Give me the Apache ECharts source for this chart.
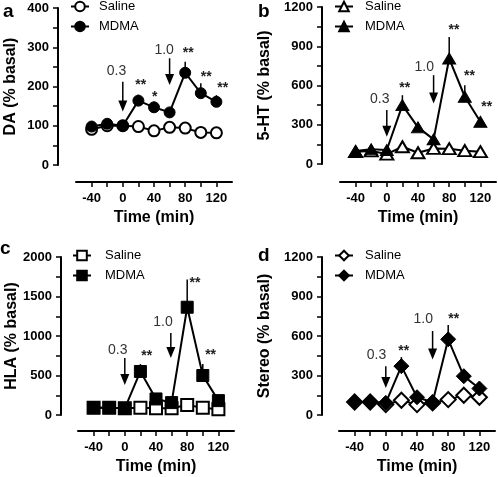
<!DOCTYPE html>
<html>
<head>
<meta charset="utf-8">
<script src="https://cdn.jsdelivr.net/npm/echarts@6/dist/echarts.min.js"></script>
<style>html,body{margin:0;padding:0;background:#fff;}#c{width:498px;height:477px;}</style>
</head>
<body>
<div id="c"></div>
<script>
// ---------- DATA ----------
const times = [-40, -20, 0, 20, 40, 60, 80, 100, 120];
const xTickValues = [-40, -20, 0, 20, 40, 60, 80, 100, 120];
const xLabelValues = [-40, 0, 40, 80, 120];

// a: DA
const daSaline = [91, 100, 100, 98, 87, 96, 94, 83, 82];
const daMdma = [98, 105, 100, 164, 147, 134, 235, 183, 161];
const daMdmaSem = [0, 0, 0, 15, 14, 0, 28, 25, 17];
const daArrowX = [0, 60], daArrowTop = [212, 272], daArrowBottom = [136, 204];
const daDoseLabels = ['0.3', '1.0'], daDoseX = [-8, 53], daDoseY = [238, 293];
const daStars = ['**', '*', '**', '**', '**'], daStarX = [23, 41, 84, 107, 128], daStarY = [204, 174, 285, 225, 195];
const daYTicks = [0, 50, 100, 150, 200, 250, 300, 350, 400], daYLabels = [0, 100, 200, 300, 400];

// b: 5-HT
const htSaline = [94, 100, 76, 132, 86, 119, 117, 102, 94];
const htMdma = [99, 112, 107, 450, 280, 188, 806, 514, 323];
const htMdmaSem = [0, 0, 0, 76, 20, 20, 165, 88, 20];
const htArrowX = [0, 60], htArrowTop = [412, 679], htArrowBottom = [208, 463];
const htDoseLabels = ['0.3', '1.0'], htDoseX = [-9, 48], htDoseY = [493, 742];
const htStars = ['**', '**', '**', '**'], htStarX = [23, 86, 106, 128], htStarY = [577, 1022, 671, 437];
const htYTicks = [0, 150, 300, 450, 600, 750, 900, 1050, 1200], htYLabels = [0, 300, 600, 900, 1200];

// c: HLA
const hlaSaline = [93, 93, 85, 93, 85, 85, 127, 93, 72];
const hlaMdma = [93, 93, 85, 551, 203, 157, 1364, 500, 182];
const hlaMdmaSem = [0, 0, 0, 93, 30, 0, 352, 144, 40];
const hlaArrowX = [0, 59], hlaArrowTop = [720, 1038], hlaArrowBottom = [381, 720];
const hlaDoseLabels = ['0.3', '1.0'], hlaDoseX = [-9, 49], hlaDoseY = [826, 1174];
const hlaStars = ['**', '**', '**'], hlaStarX = [28, 90, 110], hlaStarY = [742, 1674, 754];
const hlaYTicks = [0, 250, 500, 750, 1000, 1250, 1500, 1750, 2000], hlaYLabels = [0, 500, 1000, 1500, 2000];

// d: Stereo
const stSaline = [99, 99, 79, 112, 79, 92, 117, 150, 135];
const stMdma = [99, 99, 92, 371, 135, 97, 575, 295, 201];
const stMdmaSem = [0, 0, 0, 69, 0, 0, 109, 38, 20];
const stArrowX = [0, 60], stArrowTop = [371, 638], stArrowBottom = [206, 422];
const stDoseLabels = ['0.3', '1.0'], stDoseX = [-12, 48], stDoseY = [455, 727];
const stStars = ['**', '**'], stStarX = [23, 87], stStarY = [486, 727];
const stYTicks = [0, 150, 300, 450, 600, 750, 900, 1050, 1200], stYLabels = [0, 300, 600, 900, 1200];

// ---------- PANELS ----------
const panels = [
  { key: 'a', yName: 'DA (% basal)', yMax: 400, saline: daSaline, mdma: daMdma, sem: daMdmaSem,
    arrowX: daArrowX, arrowTop: daArrowTop, arrowBottom: daArrowBottom, doseLabels: daDoseLabels, doseX: daDoseX, doseY: daDoseY,
    stars: daStars, starX: daStarX, starY: daStarY, yTicks: daYTicks, yLabels: daYLabels,
    symbol: 'circle', symbolSize: 11,
    grid: { left: 76, top: 8, width: 156, height: 157 }, yOffset: 18, xOffset: 17, nameGap: 39,
    legend: { left: 70, top: 0, pad: 5 }, letter: { x: 3, y: 2 } },
  { key: 'b', yName: '5-HT (% basal)', yMax: 1200, saline: htSaline, mdma: htMdma, sem: htMdmaSem,
    arrowX: htArrowX, arrowTop: htArrowTop, arrowBottom: htArrowBottom, doseLabels: htDoseLabels, doseX: htDoseX, doseY: htDoseY,
    stars: htStars, starX: htStarX, starY: htStarY, yTicks: htYTicks, yLabels: htYLabels,
    symbol: 'triangle', symbolSize: [13, 11],
    grid: { left: 340, top: 7, width: 156, height: 157 }, yOffset: 18, xOffset: 18, nameGap: 49,
    legend: { left: 334, top: 0, pad: 7 }, letter: { x: 258, y: 2 } },
  { key: 'c', yName: 'HLA (% basal)', yMax: 2000, saline: hlaSaline, mdma: hlaMdma, sem: hlaMdmaSem,
    arrowX: hlaArrowX, arrowTop: hlaArrowTop, arrowBottom: hlaArrowBottom, doseLabels: hlaDoseLabels, doseX: hlaDoseX, doseY: hlaDoseY,
    stars: hlaStars, starX: hlaStarX, starY: hlaStarY, yTicks: hlaYTicks, yLabels: hlaYLabels,
    symbol: 'rect', symbolSize: 12,
    grid: { left: 78, top: 257, width: 156, height: 158 }, yOffset: 17, xOffset: 16, nameGap: 41,
    legend: { left: 72, top: 249, pad: 9 }, letter: { x: 0, y: 239 } },
  { key: 'd', yName: 'Stereo (% basal)', yMax: 1200, saline: stSaline, mdma: stMdma, sem: stMdmaSem,
    arrowX: stArrowX, arrowTop: stArrowTop, arrowBottom: stArrowBottom, doseLabels: stDoseLabels, doseX: stDoseX, doseY: stDoseY,
    stars: stStars, starX: stStarX, starY: stStarY, yTicks: stYTicks, yLabels: stYLabels,
    symbol: 'diamond', symbolSize: 15,
    grid: { left: 339, top: 257, width: 156, height: 158 }, yOffset: 17, xOffset: 16, nameGap: 49,
    legend: { left: 334, top: 249, pad: 7 }, letter: { x: 258, y: 246 } }
];

const FONT = 'Liberation Sans';
const option = { animation: false, grid: [], xAxis: [], yAxis: [], legend: [], series: [], graphic: [] };

panels.forEach((p, i) => {
  option.grid.push(Object.assign({ outerBoundsMode: 'none' }, p.grid));
  option.xAxis.push({
    type: 'value', gridIndex: i, min: -60, max: 140, interval: 20, offset: p.xOffset,
    name: 'Time (min)', nameLocation: 'middle', nameGap: 28,
    nameTextStyle: { fontFamily: FONT, fontWeight: 'bold', fontSize: 16, color: '#000' },
    axisLine: { show: true, onZero: false, lineStyle: { color: '#000', width: 2 } },
    axisTick: { show: true, length: 5, lineStyle: { color: '#000', width: 1.5 }, customValues: xTickValues },
    axisLabel: { fontFamily: FONT, fontWeight: 'bold', fontSize: 13, color: '#000', margin: 10, customValues: xLabelValues,
      formatter: v => String(v) },
    splitLine: { show: false }
  });
  option.yAxis.push({
    type: 'value', gridIndex: i, min: 0, max: p.yMax, offset: p.yOffset,
    name: p.yName, nameLocation: 'middle', nameGap: p.nameGap, nameRotate: 90,
    nameTextStyle: { fontFamily: FONT, fontWeight: 'bold', fontSize: 16, color: '#000' },
    axisLine: { show: true, onZero: false, lineStyle: { color: '#000', width: 2 } },
    axisTick: { show: true, length: 5, lineStyle: { color: '#000', width: 1.5 }, customValues: p.yTicks },
    axisLabel: { fontFamily: FONT, fontWeight: 'bold', fontSize: 13, color: '#000', margin: 9, customValues: p.yLabels,
      formatter: v => String(v) },
    splitLine: { show: false }
  });
  const sName = 'Saline_' + p.key, mName = 'MDMA_' + p.key;
  option.legend.push({
    data: [sName, mName], orient: 'vertical', left: p.legend.left, top: p.legend.top, padding: 0,
    itemWidth: 18, itemHeight: 12, itemGap: 7, selectedMode: false,
    formatter: n => n.split('_')[0],
    textStyle: { fontFamily: FONT, fontSize: 13, color: '#000', padding: [0, 0, 0, p.legend.pad] }
  });
  // error bars (upward)
  option.series.push({
    type: 'custom', xAxisIndex: i, yAxisIndex: i, z: 1, silent: true,
    data: times.map((t, k) => [t, p.mdma[k], p.mdma[k] + p.sem[k]]),
    renderItem: (params, api) => {
      const a = api.coord([api.value(0), api.value(1)]);
      const b = api.coord([api.value(0), api.value(2)]);
      return { type: 'line', shape: { x1: a[0], y1: a[1], x2: b[0], y2: b[1] }, style: { stroke: '#000', lineWidth: 1.5 } };
    }
  });
  option.series.push({
    name: sName, type: 'line', xAxisIndex: i, yAxisIndex: i, z: 2,
    data: times.map((t, k) => [t, p.saline[k]]),
    symbol: p.symbol, symbolSize: p.symbolSize,
    lineStyle: { color: '#000', width: 2 },
    itemStyle: { color: '#fff', borderColor: '#000', borderWidth: 2 }
  });
  option.series.push({
    name: mName, type: 'line', xAxisIndex: i, yAxisIndex: i, z: 3,
    data: times.map((t, k) => [t, p.mdma[k]]),
    symbol: p.symbol, symbolSize: p.symbolSize,
    lineStyle: { color: '#000', width: 2 },
    itemStyle: { color: '#000', borderColor: '#000', borderWidth: 1 }
  });
  // dose arrows
  option.series.push({
    type: 'custom', xAxisIndex: i, yAxisIndex: i, z: 4, silent: true,
    data: p.arrowX.map((x, k) => [x, p.arrowTop[k], p.arrowBottom[k]]),
    renderItem: (params, api) => {
      const k = params.dataIndex;
      const top = api.coord([api.value(0), api.value(1)]);
      const bot = api.coord([api.value(0), api.value(2)]);
      const lab = api.coord([p.doseX[k], p.doseY[k]]);
      const hh = 11, hw = 4.5;
      return { type: 'group', children: [
        { type: 'line', shape: { x1: top[0], y1: top[1], x2: bot[0], y2: bot[1] - hh + 1 }, style: { stroke: '#000', lineWidth: 1.5 } },
        { type: 'polygon', shape: { points: [[bot[0] - hw, bot[1] - hh], [bot[0] + hw, bot[1] - hh], [bot[0], bot[1]]] }, style: { fill: '#000' } },
        { type: 'text', x: lab[0], y: lab[1], style: { text: p.doseLabels[k], fontFamily: FONT, fontSize: 14, fill: '#333', align: 'center', verticalAlign: 'middle' } }
      ] };
    }
  });
  // significance stars
  option.series.push({
    type: 'custom', xAxisIndex: i, yAxisIndex: i, z: 4, silent: true,
    data: p.starX.map((x, k) => [x, p.starY[k]]),
    renderItem: (params, api) => {
      const c = api.coord([api.value(0), api.value(1)]);
      return { type: 'text', x: c[0], y: c[1], style: { text: p.stars[params.dataIndex], fontFamily: FONT, fontWeight: 'bold', fontSize: 14, fill: '#222', align: 'center', verticalAlign: 'middle' } };
    }
  });
  option.graphic.push({ type: 'text', left: p.letter.x, top: p.letter.y, style: { text: p.key, fontFamily: FONT, fontWeight: 'bold', fontSize: 19, fill: '#000' } });
});

const chart = echarts.init(document.getElementById('c'), null, { renderer: 'canvas' });
chart.setOption(option);
</script>
</body>
</html>
